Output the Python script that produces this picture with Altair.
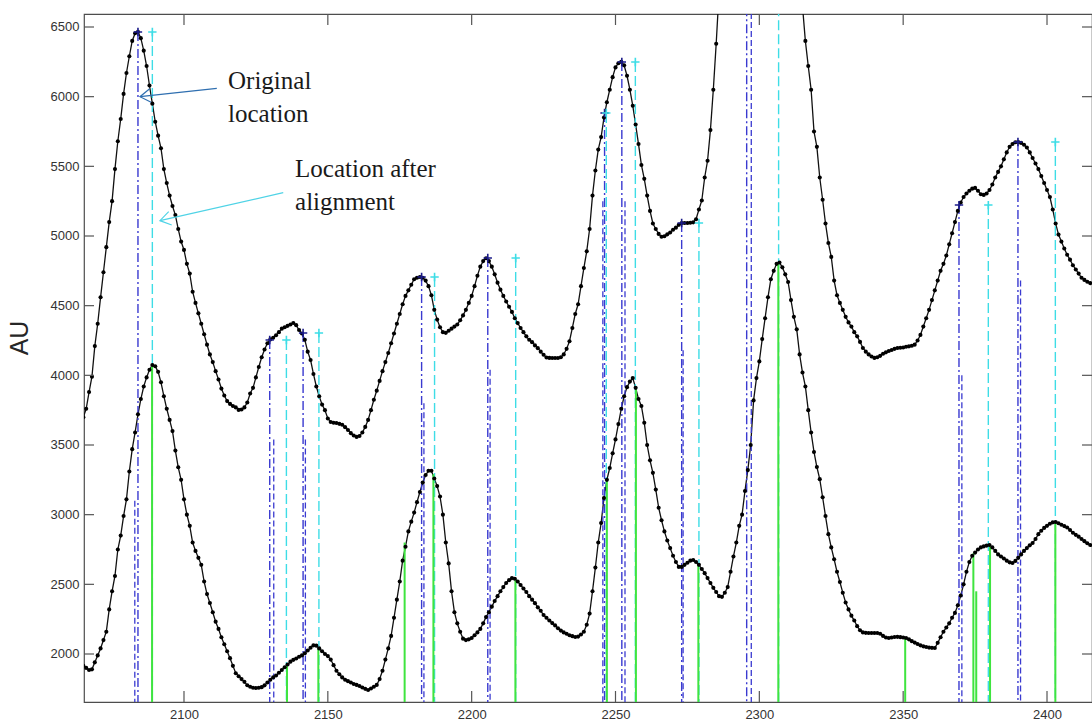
import altair as alt
import pandas as pd

# ---------------------------------------------------------------
# Signals: one sample per unit from 2065 to 2415 (AU)
# ---------------------------------------------------------------
x_start = 2065

reference_signal = [
    3700, 3760, 3880, 3990, 4210,                                # 2065-2069
    4370, 4560, 4740, 4920, 5100, 5250, 5480, 5680, 5840, 6020,  # 2070
    6170, 6290, 6400, 6455, 6465, 6420, 6330, 6220, 6080, 5950,  # 2080
    5820, 5720, 5630, 5480, 5380, 5290, 5215, 5150, 5050, 4960,  # 2090
    4900, 4800, 4730, 4600, 4520, 4445, 4370, 4295, 4220, 4150,  # 2100
    4095, 4030, 3970, 3905, 3855, 3815, 3795, 3780, 3770, 3752,  # 2110
    3755, 3770, 3805, 3870, 3910, 3985, 4060, 4130, 4185, 4230,  # 2120
    4258, 4270, 4288, 4310, 4335, 4345, 4355, 4365, 4376, 4360,  # 2130
    4325, 4300, 4255, 4170, 4110, 4010, 3920, 3850, 3790, 3750,  # 2140
    3690, 3665, 3660, 3658, 3652, 3645, 3628, 3608, 3585, 3568,  # 2150
    3558, 3565, 3590, 3630, 3680, 3750, 3825, 3890, 3960, 4030,  # 2160
    4095, 4160, 4230, 4300, 4370, 4440, 4510, 4570, 4610, 4650,  # 2170
    4690, 4700, 4706, 4700, 4680, 4640, 4575, 4470, 4400, 4345,  # 2180
    4310, 4305, 4320, 4335, 4350, 4365, 4395, 4430, 4470, 4520,  # 2190
    4570, 4640, 4715, 4780, 4820, 4840, 4820, 4780, 4725, 4665,  # 2200
    4615, 4570, 4530, 4492, 4455, 4410, 4375, 4340, 4310, 4280,  # 2210
    4255, 4238, 4215, 4195, 4170, 4148, 4128, 4125, 4124, 4124,  # 2220
    4124, 4130, 4150, 4190, 4245, 4340, 4440, 4510, 4640, 4770,  # 2230
    4890, 5050, 5290, 5470, 5620, 5710, 5850, 5960, 6050, 6140,  # 2240
    6210, 6240, 6250, 6225, 6150, 6050, 5935, 5800, 5660, 5510,  # 2250
    5410, 5290, 5180, 5090, 5050, 5015, 4995, 4998, 5012, 5025,  # 2260
    5045, 5060, 5080, 5093, 5093, 5093, 5095, 5098, 5120, 5190,  # 2270
    5255, 5420, 5540, 5760, 6050, 6380, 6750, 7120, 7480, 7820,  # 2280
    8130, 8400, 8620, 8790, 8900, 8960, 8970, 8955, 8930, 8890,  # 2290
    8840, 8780, 8700, 8610, 8500, 8380, 8250, 8110, 7960, 7800,  # 2300
    7620, 7430, 7240, 7050, 6860, 6650, 6400, 6220, 6050, 5750,  # 2310
    5640, 5420, 5260, 5090, 4950, 4850, 4680, 4575, 4520, 4470,  # 2320
    4420, 4380, 4350, 4310, 4280, 4240, 4196, 4170, 4150, 4135,  # 2330
    4125, 4130, 4140, 4155, 4165, 4175, 4182, 4190, 4196, 4198,  # 2340
    4200, 4205, 4208, 4212, 4220, 4250, 4290, 4350, 4410, 4470,  # 2350
    4540, 4610, 4680, 4750, 4800, 4860, 4940, 5020, 5100, 5180,  # 2360
    5240, 5280, 5305, 5325, 5340, 5345, 5325, 5300, 5295, 5305,  # 2370
    5330, 5370, 5420, 5460, 5500, 5550, 5600, 5640, 5660, 5673,  # 2380
    5675, 5668, 5655, 5635, 5600, 5560, 5520, 5480, 5430, 5380,  # 2390
    5330, 5280, 5190, 5090, 5010, 4960, 4910, 4865, 4830, 4790,  # 2400
    4760, 4730, 4700, 4685, 4672, 4662,                          # 2410-2415
]

sample_signal = [
    1915, 1900, 1885, 1890, 1940,                                # 2065-2069
    1990, 2040, 2100, 2160, 2320, 2450, 2560, 2750, 2850, 2990,  # 2070
    3110, 3310, 3470, 3590, 3720, 3830, 3920, 3985, 4040, 4074,  # 2080
    4065, 4025, 3950, 3850, 3760, 3680, 3600, 3460, 3340, 3250,  # 2090
    3110, 3000, 2920, 2800, 2740, 2690, 2640, 2520, 2430, 2366,  # 2100
    2300, 2232, 2180, 2120, 2070, 2020, 1970, 1915, 1862, 1840,  # 2110
    1820, 1800, 1776, 1765, 1758, 1756, 1758, 1762, 1775, 1795,  # 2120
    1815, 1832, 1846, 1865, 1885, 1905, 1925, 1945, 1958, 1968,  # 2130
    1980, 1990, 2005, 2025, 2045, 2062, 2060, 2040, 2020, 2000,  # 2140
    1985, 1960, 1920, 1880, 1855, 1832, 1815, 1805, 1795, 1785,  # 2150
    1778, 1770, 1760, 1750, 1742, 1752, 1765, 1778, 1820, 1880,  # 2160
    1960, 2040, 2130, 2260, 2390, 2520, 2670, 2770, 2880, 2950,  # 2170
    3015, 3090, 3163, 3230, 3285, 3315, 3315, 3260, 3205, 3130,  # 2180
    3000, 2800, 2650, 2450, 2300, 2220, 2160, 2110, 2100, 2105,  # 2190
    2115, 2135, 2155, 2180, 2220, 2265, 2300, 2340, 2380, 2415,  # 2200
    2450, 2480, 2510, 2530, 2545, 2540, 2520, 2495, 2470, 2445,  # 2210
    2415, 2390, 2365, 2335, 2310, 2280, 2260, 2240, 2222, 2205,  # 2220
    2185, 2168, 2155, 2145, 2135, 2128, 2122, 2125, 2140, 2160,  # 2230
    2210, 2290, 2450, 2620, 2800, 2940, 3120, 3250, 3335, 3440,  # 2240
    3540, 3650, 3760, 3850, 3915, 3955, 3980, 3910, 3830, 3780,  # 2250
    3660, 3500, 3390, 3300, 3180, 3050, 2960, 2880, 2815, 2760,  # 2260
    2705, 2660, 2625, 2625, 2640, 2655, 2670, 2675, 2660, 2640,  # 2270
    2610, 2580, 2545, 2510, 2475, 2445, 2415, 2410, 2440, 2480,  # 2280
    2590, 2700, 2800, 2920, 3000, 3170, 3320, 3500, 3820, 3980,  # 2290
    4100, 4260, 4410, 4560, 4690, 4750, 4800, 4810, 4775, 4725,  # 2300
    4670, 4540, 4420, 4330, 4150, 4020, 3920, 3750, 3590, 3450,  # 2310
    3342, 3255, 3125, 2990, 2860, 2765, 2680, 2590, 2517, 2440,  # 2320
    2370, 2320, 2275, 2240, 2200, 2170, 2155, 2152, 2151, 2151,  # 2330
    2151, 2151, 2145, 2130, 2118, 2115, 2118, 2122, 2123, 2121,  # 2340
    2118, 2115, 2105, 2092, 2082, 2072, 2062, 2055, 2050, 2046,  # 2350
    2044, 2043, 2080, 2120, 2160, 2190, 2220, 2260, 2295, 2350,  # 2360
    2420, 2500, 2590, 2660, 2705, 2728, 2750, 2765, 2772, 2778,  # 2370
    2782, 2765, 2740, 2715, 2700, 2685, 2670, 2658, 2653, 2668,  # 2380
    2690, 2715, 2740, 2760, 2780, 2797, 2825, 2860, 2885, 2905,  # 2390
    2920, 2935, 2945, 2947, 2938, 2928, 2918, 2908, 2890, 2870,  # 2400
    2855, 2842, 2825, 2810, 2795, 2782,                          # 2410-2415
]

# Peak locations of the reference signal before and after alignment
original_location = [2084.0, 2129.8, 2141.4, 2182.6, 2205.6, 2246.2,
                     2252.2, 2273.0, 2295.6, 2369.4, 2389.9]
aligned_location = [2089.0, 2135.6, 2146.9, 2187.1, 2215.3, 2246.8,
                    2256.9, 2279.0, 2306.7, 2379.6, 2402.9]
peak_height = [6464, 4254, 4304, 4706, 4842, 5883,
               6249, 5093, 8960, 5222, 5675]

# Second trace drawn beside each original location
original_pair_location = [2082.9, 2131.2, 2142.2, 2183.4, 2206.4, 2245.6,
                          2253.3, 2273.5, 2297.2, 2370.4, 2390.8]
original_pair_top = [3100, 3540, 3540, 3800, 4040, 5250,
                     5250, 4180, 6600, 4000, 4680]

# Matched peaks of the lower signal
matched_location = [2088.9, 2135.8, 2146.7, 2176.7, 2186.7, 2215.2, 2247.0,
                    2257.1, 2278.8, 2306.6, 2350.7, 2374.4, 2375.4, 2380.2,
                    2402.9]
matched_height = [4074, 1921, 2040, 2800, 3290, 2540, 3249,
                  3900, 2645, 4810, 2118, 2722, 2450, 2782,
                  2947]

x_ticks = [2100, 2150, 2200, 2250, 2300, 2350, 2400]
y_ticks = [2000, 2500, 3000, 3500, 4000, 4500, 5000, 5500, 6000, 6500]

# ---------------------------------------------------------------
W, H = 1008, 688
BLUE = "#3a3ad0"
BLUE_MARK = "#1c1c8a"
CYAN = "#3edde6"
GREEN = "#3fe43f"
TICK = "#555555"

xs = alt.Scale(domain=[2065.24, 2415.64], nice=False, zero=False)
ys = alt.Scale(domain=[1655.5, 6593.3], nice=False, zero=False)
x_axis = alt.Axis(values=x_ticks, format="d", tickSize=0, domain=False,
                  grid=False, labelPadding=6, title="")
y_axis = alt.Axis(values=y_ticks, format="d", tickSize=0, domain=False,
                  grid=False, labelPadding=5, title="")


def X(field):
    return alt.X(field, type="quantitative", scale=xs, axis=x_axis)


def Y(field):
    return alt.Y(field, type="quantitative", scale=ys, axis=y_axis)


n = len(reference_signal)
curves = pd.DataFrame({
    "x": list(range(x_start, x_start + n)) * 2,
    "v": reference_signal + sample_signal,
    "series": ["reference"] * n + ["sample"] * len(sample_signal),
})

peaks = pd.DataFrame({"x": original_location, "v": peak_height})
aligned = pd.DataFrame({"x": aligned_location, "v": peak_height})
pairs = pd.DataFrame({"x": original_pair_location, "v": original_pair_top})
matched = pd.DataFrame({"x": matched_location, "v": matched_height})

blue_rules = alt.Chart(peaks).mark_rule(
    color=BLUE, strokeWidth=1.4, strokeDash=[9, 3, 2, 3], clip=True
).encode(x=X("x"), y=Y("v"), y2=alt.value(H))

blue_pair_rules = alt.Chart(pairs).mark_rule(
    color=BLUE, strokeWidth=1.3, strokeDash=[6, 3], clip=True
).encode(x=X("x"), y=Y("v"), y2=alt.value(H))

cyan_rules = alt.Chart(aligned).mark_rule(
    color=CYAN, strokeWidth=1.4, strokeDash=[10, 4], clip=True
).encode(x=X("x"), y=Y("v"), y2=alt.value(H))

green_rules = alt.Chart(matched).mark_rule(
    color=GREEN, strokeWidth=2, clip=True
).encode(x=X("x"), y=Y("v"), y2=alt.value(H))

curve_lines = alt.Chart(curves).mark_line(
    color="#111111", strokeWidth=1.3, clip=True
).encode(x=X("x"), y=Y("v"), detail="series:N")

curve_dots = alt.Chart(curves).mark_circle(
    color="#000000", size=17, opacity=1, clip=True
).encode(x=X("x"), y=Y("v"))

PLUS = "M -1 0 L 1 0 M 0 -1 L 0 1"
blue_plus = alt.Chart(peaks).mark_point(
    shape=PLUS, size=70, filled=False, color=BLUE_MARK, strokeWidth=1.6,
    opacity=1, clip=True
).encode(x=X("x"), y=Y("v"))
cyan_plus = alt.Chart(aligned).mark_point(
    shape=PLUS, size=70, filled=False, color=CYAN, strokeWidth=1.6,
    opacity=1, clip=True
).encode(x=X("x"), y=Y("v"))

# Annotation arrows (start at the caption, end at the marked line)
arrow_orig = pd.DataFrame({"x": [2111.4], "v": [6060], "x2": [2084.7], "v2": [6000]})
arrow_align = pd.DataFrame({"x": [2134.5], "v": [5311], "x2": [2091.65], "v2": [5110]})
ARROW_COLOR_1 = "#2f6fb0"
ARROW_COLOR_2 = "#4fd3e6"
HEAD = "M 2 -1.3 L 0 0 L 2 1.3"

arrow1 = alt.Chart(arrow_orig).mark_rule(color=ARROW_COLOR_1, strokeWidth=1.2).encode(
    x=X("x"), y=Y("v"), x2="x2", y2="v2")
head1 = alt.Chart(arrow_orig).mark_point(
    shape=HEAD, size=110, filled=False, color=ARROW_COLOR_1, strokeWidth=1.2,
    angle=353.8, opacity=1
).encode(x=X("x2"), y=Y("v2"))
arrow2 = alt.Chart(arrow_align).mark_rule(color=ARROW_COLOR_2, strokeWidth=1.2).encode(
    x=X("x"), y=Y("v"), x2="x2", y2="v2")
head2 = alt.Chart(arrow_align).mark_point(
    shape=HEAD, size=110, filled=False, color=ARROW_COLOR_2, strokeWidth=1.2,
    angle=347.2, opacity=1
).encode(x=X("x2"), y=Y("v2"))

captions = pd.DataFrame({
    "x": [2115.3, 2138.6],
    "v": [6055, 5423],
    "label": ["Original\nlocation", "Location after\nalignment"],
})
caption_text = alt.Chart(captions).mark_text(
    align="left", baseline="alphabetic", font="Liberation Serif",
    fontSize=25, lineHeight=33, lineBreak="\n", color="#1a1a1a"
).encode(x=X("x"), y=Y("v"), text="label:N")

# Inward tick marks on all four sides
xt = pd.DataFrame({"x": x_ticks})
yt = pd.DataFrame({"v": y_ticks})
ticks_bottom = alt.Chart(xt).mark_rule(color=TICK, strokeWidth=1.2).encode(
    x=X("x"), y=alt.value(H), y2=alt.value(H - 11))
ticks_top = alt.Chart(xt).mark_rule(color=TICK, strokeWidth=1.2).encode(
    x=X("x"), y=alt.value(0), y2=alt.value(11))
ticks_left = alt.Chart(yt).mark_rule(color=TICK, strokeWidth=1.2).encode(
    y=Y("v"), x=alt.value(0), x2=alt.value(10))
ticks_right = alt.Chart(yt).mark_rule(color=TICK, strokeWidth=1.2).encode(
    y=Y("v"), x=alt.value(W), x2=alt.value(W - 10))

y_title = alt.Chart(pd.DataFrame({"t": ["AU"]})).mark_text(
    angle=270, align="center", baseline="middle", font="Liberation Sans",
    fontSize=25, color="#262626"
).encode(x=alt.value(-64), y=alt.value(324), text="t:N")

chart = alt.layer(
    curve_lines,
    blue_rules, blue_pair_rules, cyan_rules, green_rules,
    curve_dots,
    blue_plus, cyan_plus,
    arrow1, head1, arrow2, head2, caption_text,
    ticks_bottom, ticks_top, ticks_left, ticks_right,
    y_title,
).properties(
    width=W, height=H,
    padding={"left": 84, "top": 14, "right": 0, "bottom": 21},
    autosize=alt.AutoSizeParams(type="none"),
    background="white",
).configure_view(
    stroke="#4d4d4d", strokeWidth=1.2
).configure_axis(
    labelFont="Liberation Sans", labelFontSize=13, labelColor="#333333"
)

chart.save("out.html", embed_options={"renderer": "svg", "actions": False})
